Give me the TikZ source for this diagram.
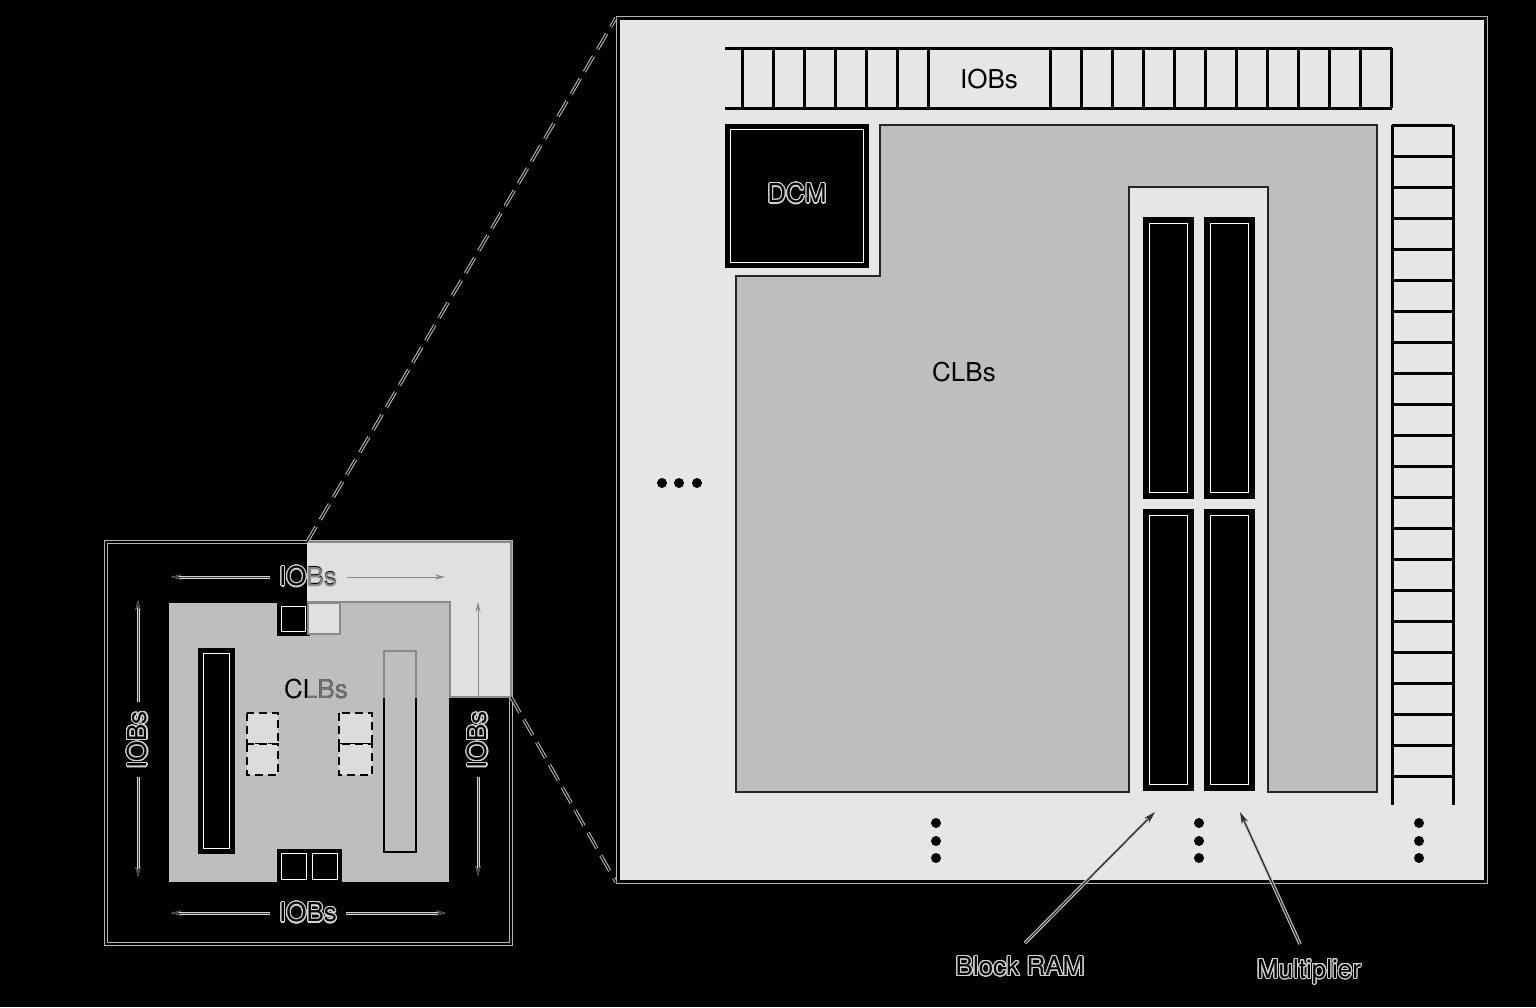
\documentclass[tikz,border=0pt]{standalone}
\usepackage{fontspec}
\setmainfont{TeX Gyre Heros}
\usepackage{contour}
\contourlength{0.55pt}
\contournumber{24}
\usetikzlibrary{arrows.meta}
\definecolor{bigbg}{HTML}{E6E6E6}
\definecolor{clbfill}{HTML}{BEBEBE}
\definecolor{ovlfill}{HTML}{E0E0E0}
\definecolor{dashfill}{HTML}{DCDCDC}
\definecolor{halocol}{HTML}{D2D2D2}
\definecolor{halodim}{HTML}{B4B4B4}
\definecolor{ovlline}{HTML}{8A8A8A}
\newcommand\blkbox[5][4]{%
  \filldraw[fill=black, draw=black, line width=1.5pt] (#2,#3) rectangle (#4,#5);
  \draw[white, line width=0.45pt] ({#2+#1},{#3+#1}) rectangle ({#4-#1},{#5-#1});}
\tikzset{
  lbl/.style={font=\fontsize{13}{15}\selectfont, inner sep=0pt},
  ladder/.style={line width=1.5pt, black},
  haloline/.style={preaction={draw=halocol, line width=#1}},
  sarr/.style={draw=black!75, line width=0.5pt, haloline=1.5pt,
    -{Stealth[length=5pt,width=2.6pt]}},
  barr/.style={draw=black!80, line width=0.7pt, haloline=1.7pt,
    -{Stealth[length=6pt,width=3.4pt]}},
  zoomline/.style={preaction={draw=halodim, line width=1.7pt, dash pattern=on 9pt off 4pt},
    draw=black, line width=0.6pt, dash pattern=on 9pt off 4pt},
  dotm/.style={fill=black},
  dashbox/.style={fill=dashfill, draw=black, line width=1.2pt, dash pattern=on 4pt off 2.5pt},
}
\begin{document}
\begin{tikzpicture}[x=0.5pt,y=-0.5pt]
\fill[black] (0,0) rectangle (1536,1007);
\useasboundingbox (0,0) rectangle (1536,1007);

% ---------------- big detail box ----------------
\draw[halodim, line width=2.5pt] (618,18) rectangle (1485,881);
\filldraw[fill=bigbg, draw=black, line width=1.5pt] (618,18) rectangle (1485,881);

% top IOB ladder
\draw[ladder] (725,48) -- (1392,48) (725,108) -- (1392,108);
\foreach \x in {742,773,...,928} \draw[ladder] (\x,48) -- (\x,108);
\foreach \x in {1050,1081,...,1391} \draw[ladder] (\x,48) -- (\x,108);
\node[lbl] (iobtop) at (989,79) {IOBs};

% right IOB ladder
\draw[ladder] (1392,125) -- (1392,805) (1453,125) -- (1453,805);
\foreach \y in {125,156,...,776} \draw[ladder] (1392,\y) -- (1453,\y);

% CLB region
\filldraw[fill=clbfill, draw=black!85, line width=1pt]
  (736,792) -- (736,276) -- (880,276) -- (880,125) -- (1377,125) -- (1377,792)
  -- (1268,792) -- (1268,187) -- (1129,187) -- (1129,792) -- cycle;
\node[lbl] (clbbig) at (964,372) {CLBs};

% DCM
\blkbox{726}{125}{867}{266}
\node[lbl] (dcm) at (797,194) {\contour{halocol}{DCM}};

% block RAM / multiplier columns
\blkbox[5]{1144}{218}{1192}{497}
\blkbox[5]{1205}{218}{1253}{497}
\blkbox[5]{1144}{510}{1192}{789}
\blkbox[5]{1205}{510}{1253}{789}

% dots
\foreach \x in {662,679,697} \fill[dotm] (\x,483) circle[radius=5];
\foreach \x in {936,1199,1419}
  \foreach \y in {823,841,858} \fill[dotm] (\x,\y) circle[radius=5];

% labels and arrows
\node[lbl] (bram) at (1020,967) {\contour{halocol}{Block RAM}};
\node[lbl] (mult) at (1309,972) {\contour{halocol}{Multiplier}};
\coordinate (bramtail) at (1025,943);
\coordinate (bramtip) at (1155,812);
\coordinate (multtail) at (1300,944);
\coordinate (multtip) at (1240,812);
\draw[barr] (bramtail) -- (bramtip);
\draw[barr] (multtail) -- (multtip);

% ---------------- small overview ----------------
\draw[halodim, line width=2.4pt] (106,542) rectangle (511,944);
\draw[black, line width=1.3pt] (106,542) rectangle (511,944);
\fill[ovlfill] (307,542) rectangle (511,697);
\draw[ovlline, line width=1pt] (447,697) -- (511,697);

\filldraw[fill=clbfill, draw=black, line width=1pt] (168,602) rectangle (450,883);
\blkbox[3]{278}{603}{308}{634}
\blkbox[3]{278}{850}{309}{882}
\blkbox[3]{309}{850}{340}{882}
\blkbox[4]{199}{649}{233}{852}
\filldraw[fill=clbfill, draw=black, line width=1pt] (384,651) rectangle (416,852);
\filldraw[dashbox] (247,713) rectangle (278,744);
\filldraw[dashbox] (247,744) rectangle (278,775);
\filldraw[dashbox] (339,713) rectangle (372,744);
\filldraw[dashbox] (339,744) rectangle (372,775);
\node[lbl] (clbsmall) at (316,689) {CLBs};

\node[lbl] (iobT) at (308,577) {\contour{halocol}{IOBs}};
\node[lbl] (iobB) at (308,913) {\contour{halocol}{IOBs}};
\node[lbl, rotate=90] (iobL) at (138,740) {\contour{halocol}{IOBs}};
\node[lbl, rotate=90] (iobR) at (478,740) {\contour{halocol}{IOBs}};

\coordinate (tLs) at (270,577); \coordinate (tLe) at (171,577);
\coordinate (tRs) at (347,577); \coordinate (tRe) at (445,577);
\coordinate (bLs) at (270,913); \coordinate (bLe) at (171,913);
\coordinate (bRs) at (346,913); \coordinate (bRe) at (446,913);
\coordinate (lUs) at (138,702); \coordinate (lUe) at (138,600);
\coordinate (lDs) at (138,777); \coordinate (lDe) at (138,877);
\coordinate (rUs) at (478,697); \coordinate (rUe) at (478,602);
\coordinate (rDs) at (478,777); \coordinate (rDe) at (478,876);
\draw[sarr] (tLs) -- (tLe);
\draw[sarr] (bLs) -- (bLe);
\draw[sarr] (bRs) -- (bRe);
\draw[sarr] (lUs) -- (lUe);
\draw[sarr] (lDs) -- (lDe);
\draw[sarr] (rDs) -- (rDe);
\draw[draw=ovlline, line width=0.5pt, -{Stealth[length=5pt,width=2.6pt]}] (rUs) -- (rUe);
\draw[draw=ovlline, line width=0.5pt, -{Stealth[length=5pt,width=2.6pt]}] (tRs) -- (tRe);

% overlay: lighter part of the overview
\begin{scope}
  \clip (307,541) rectangle (513,697);
  \draw[ovlline, line width=1.2pt] (106,542) rectangle (511,944);
  \draw[ovlline, line width=1pt] (168,602) rectangle (450,883);
  \filldraw[fill=ovlfill, draw=ovlline, line width=1.2pt] (308,603) rectangle (340,634);
  \draw[ovlline, line width=1pt] (384,651) rectangle (416,852);
  \node[lbl, text=ovlline] at (iobT) {IOBs};
  \node[lbl, text=black!55] at (clbsmall) {CLBs};
\end{scope}

% zoom lines
\coordinate (zA) at (307,542);
\coordinate (zB) at (616,18);
\coordinate (zC) at (511,697);
\coordinate (zD) at (616,882);
\draw[zoomline] (zA) -- (zB);
\draw[zoomline] (zC) -- (zD);
\end{tikzpicture}
\end{document}
